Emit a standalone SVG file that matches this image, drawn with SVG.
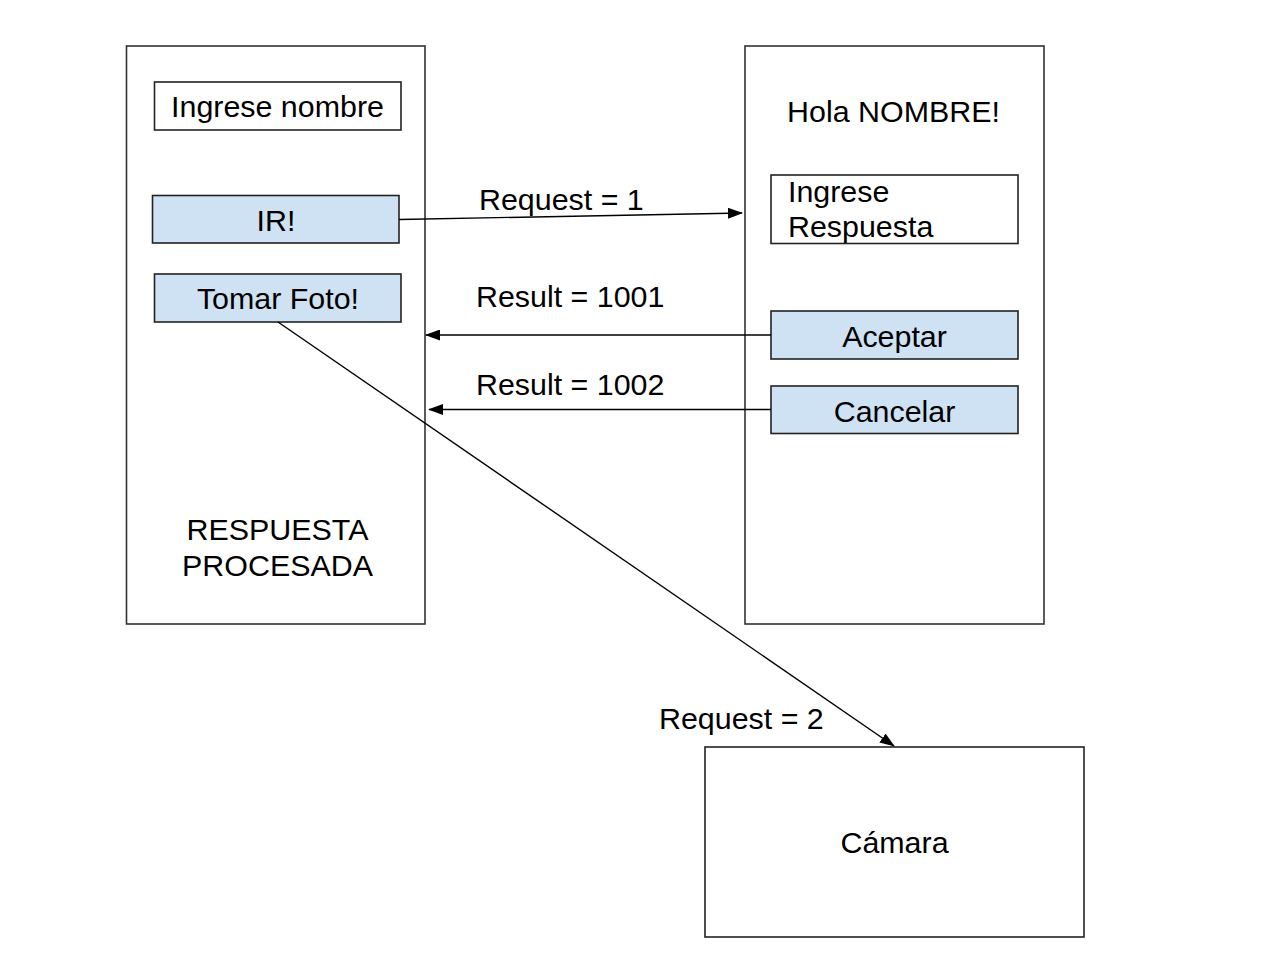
<svg xmlns="http://www.w3.org/2000/svg" width="1280" height="975" viewBox="0 0 1280 975">
<defs>
<style>
.frame{fill:#ffffff;stroke:#333333;stroke-width:1.6}
.box{fill:#ffffff;stroke:#222222;stroke-width:1.6}
.btn{fill:#cfe2f3;stroke:#222222;stroke-width:1.6}
.t{font-family:"Liberation Sans",Arial,sans-serif;font-size:30.4px;fill:#000000}
.c{text-anchor:middle}
.conn{stroke:#000000;stroke-width:1.4;fill:none;marker-end:url(#ah)}
</style>
<marker id="ah" markerWidth="15" markerHeight="11" refX="14" refY="5.5" orient="auto" markerUnits="userSpaceOnUse">
<path d="M0,0 L15,5.5 L0,11 Z" fill="#000000"/>
</marker>
</defs>
<rect width="1280" height="975" fill="#ffffff"/>
<g id="screen1">
<rect class="frame" x="126.5" y="46" width="298.5" height="578"/>
<text class="t c" x="277.5" y="540">RESPUESTA</text>
<text class="t c" x="277.5" y="576">PROCESADA</text>
</g>
<g id="ingrese-nombre">
<rect class="box" x="154.5" y="82" width="246.5" height="48"/>
<text class="t c" x="277.5" y="117">Ingrese nombre</text>
</g>
<g id="ir">
<rect class="btn" x="152.5" y="195.5" width="246.5" height="47.5"/>
<text class="t c" x="276" y="230.5">IR!</text>
</g>
<g id="tomar-foto">
<rect class="btn" x="154.5" y="274" width="246.5" height="48"/>
<text class="t c" x="278" y="309">Tomar Foto!</text>
</g>
<g id="screen2">
<rect class="frame" x="745" y="46" width="299" height="578"/>
<text class="t c" x="893.5" y="122">Hola NOMBRE!</text>
</g>
<g id="ingrese-respuesta">
<rect class="box" x="771" y="175" width="247" height="68.5"/>
<text class="t" x="788" y="202">Ingrese</text>
<text class="t" x="788" y="237">Respuesta</text>
</g>
<g id="aceptar">
<rect class="btn" x="771" y="311" width="247" height="48"/>
<text class="t c" x="894.5" y="346.5">Aceptar</text>
</g>
<g id="cancelar">
<rect class="btn" x="771" y="386" width="247" height="47.5"/>
<text class="t c" x="894.5" y="421.5">Cancelar</text>
</g>
<g id="camara">
<rect class="box" x="705" y="747" width="379" height="190"/>
<text class="t c" x="894.5" y="853">Cámara</text>
</g>
<g id="connectors">
<line class="conn" x1="399" y1="219.5" x2="742" y2="213"/>
<line class="conn" x1="771" y1="335" x2="426" y2="335"/>
<line class="conn" x1="771" y1="409.5" x2="429" y2="409.5"/>
<line class="conn" x1="278" y1="322" x2="894" y2="746"/>
<text class="t" x="479" y="210">Request = 1</text>
<text class="t" x="476" y="307">Result = 1001</text>
<text class="t" x="476" y="395">Result = 1002</text>
<text class="t" x="659" y="729">Request = 2</text>
</g>
</svg>
